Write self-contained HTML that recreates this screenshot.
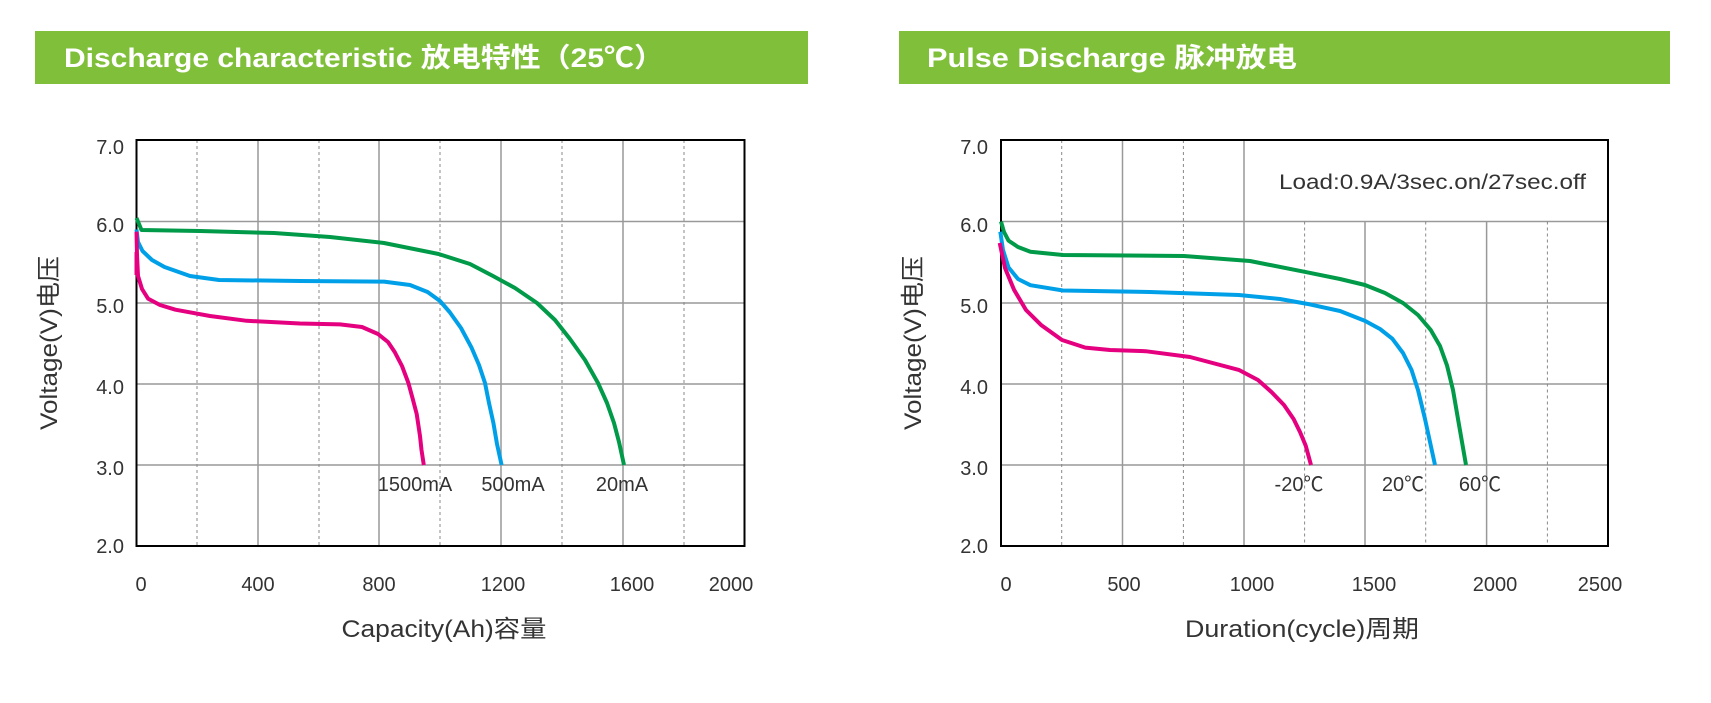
<!DOCTYPE html>
<html><head><meta charset="utf-8"><style>html,body{margin:0;padding:0;background:#fff}svg{display:block}</style></head><body>
<svg width="1711" height="703" viewBox="0 0 1711 703" xmlns="http://www.w3.org/2000/svg" font-family="'Liberation Sans','Noto Sans CJK SC',sans-serif">
<rect width="1711" height="703" fill="#fff"/>
<!-- headers -->
<rect x="35" y="31" width="773" height="53" fill="#80bf3a"/>
<text x="64" y="67" fill="#fff" font-size="27" font-weight="bold" textLength="600" lengthAdjust="spacingAndGlyphs">Discharge characteristic  放电特性（25℃）</text>
<rect x="899" y="31" width="771" height="53" fill="#80bf3a"/>
<text x="927" y="67" fill="#fff" font-size="27" font-weight="bold" textLength="370" lengthAdjust="spacingAndGlyphs">Pulse Discharge  脉冲放电</text>

<!-- LEFT CHART -->
<g stroke="#999" stroke-width="1.5" fill="none">
<line x1="136.5" y1="221.5" x2="744.5" y2="221.5"/><line x1="136.5" y1="303" x2="744.5" y2="303"/>
<line x1="136.5" y1="384" x2="744.5" y2="384"/><line x1="136.5" y1="465" x2="744.5" y2="465"/>
<line x1="258" y1="140" x2="258" y2="546"/><line x1="379" y1="140" x2="379" y2="546"/>
<line x1="501" y1="140" x2="501" y2="546"/><line x1="623" y1="140" x2="623" y2="546"/>
</g>
<g stroke="#888" stroke-width="1" stroke-dasharray="3,3">
<line x1="197" y1="140" x2="197" y2="546"/><line x1="319" y1="140" x2="319" y2="546"/>
<line x1="440" y1="140" x2="440" y2="546"/><line x1="562" y1="140" x2="562" y2="546"/><line x1="684" y1="140" x2="684" y2="546"/>
</g>
<rect x="136.5" y="140" width="608" height="406" fill="none" stroke="#000" stroke-width="2"/>
<g fill="none" stroke-width="4" stroke-linejoin="round" stroke-linecap="butt">
<polyline stroke="#009a49" points="136.5,218 141.5,230 200,231 274,233 330,237 384,243 438.6,254 470,264 493,276 515,288 537,303 555,320 570,339 585,360 598,383 607,403 614,423 619,442 624,465"/>
<polyline stroke="#00a0e9" points="136.5,229.5 138,242 142.5,251 152,260 164.5,267 190,276 219,280 300,281 384,281.6 410,285 427.6,292 440,301 449.6,312 461,328 471.5,347.6 479,365 485,383 489,403 493.4,423 497,444 501.6,465"/>
<polyline stroke="#e4007f" points="136.5,231.7 137,255 138,276 142,289 148,298.6 160,305 175.4,309.7 210,316 246.7,320.8 300,323.5 340,324.4 362,327 378,334 388,342 394.7,352 402,366 408.4,383 412.5,398 416.7,414 420,436 421.5,450 423.8,465"/>
<line stroke="#e4007f" x1="136.5" y1="252" x2="136.5" y2="275"/>
</g>
<g fill="#333" font-size="20">
<g text-anchor="end"><text x="124" y="154">7.0</text><text x="124" y="232">6.0</text><text x="124" y="313">5.0</text><text x="124" y="394">4.0</text><text x="124" y="475">3.0</text><text x="124" y="553">2.0</text></g>
<g text-anchor="middle"><text x="141" y="591">0</text><text x="258" y="591">400</text><text x="379" y="591">800</text><text x="503" y="591">1200</text><text x="632" y="591">1600</text><text x="731" y="591">2000</text>
<text x="415" y="491">1500mA</text><text x="513" y="491">500mA</text><text x="622" y="491">20mA</text>
<text x="444" y="637" font-size="24" textLength="205" lengthAdjust="spacingAndGlyphs">Capacity(Ah)容量</text>
<text transform="translate(57,343) rotate(-90)" font-size="24" textLength="174" lengthAdjust="spacingAndGlyphs">Voltage(V)电压</text></g>
</g>

<!-- RIGHT CHART -->
<g stroke="#999" stroke-width="1.5" fill="none">
<line x1="1001" y1="221.5" x2="1608" y2="221.5"/><line x1="1001" y1="303" x2="1608" y2="303"/>
<line x1="1001" y1="384" x2="1608" y2="384"/><line x1="1001" y1="465" x2="1608" y2="465"/>
<line x1="1122.5" y1="140" x2="1122.5" y2="546"/><line x1="1244" y1="140" x2="1244" y2="546"/>
<line x1="1365" y1="221.5" x2="1365" y2="546"/><line x1="1486.6" y1="221.5" x2="1486.6" y2="546"/>
</g>
<g stroke="#888" stroke-width="1" stroke-dasharray="3,3">
<line x1="1061.7" y1="140" x2="1061.7" y2="546"/><line x1="1183.4" y1="140" x2="1183.4" y2="546"/>
<line x1="1304.6" y1="221.5" x2="1304.6" y2="546"/><line x1="1425.7" y1="221.5" x2="1425.7" y2="546"/><line x1="1547.4" y1="221.5" x2="1547.4" y2="546"/>
</g>
<rect x="1001" y="140" width="607" height="406" fill="none" stroke="#000" stroke-width="2"/>
<g fill="none" stroke-width="4" stroke-linejoin="round">
<polyline stroke="#009a49" points="1001,221.5 1004,232 1008.5,240.6 1018,247 1030.4,251.8 1063,255 1184,256 1250,261 1304.6,271.8 1340,279 1365,285 1385,293 1403,303 1418,315 1430.6,329.8 1440,346 1447,365.4 1453,390 1458,419 1462,442 1466,465"/>
<polyline stroke="#00a0e9" points="1000.3,231.7 1003,250 1008.5,267.4 1018,279 1030.4,285.2 1063,290.5 1150,292 1238.8,295 1280,299 1310,304.4 1340,311 1365,320.9 1380,329 1392.3,338.7 1403,353 1411.5,369.9 1418,390 1425,419 1430,442 1435,465"/>
<polyline stroke="#e4007f" points="999.7,242.9 1005,268 1014,289.7 1026,310 1041.4,325.3 1062,340 1085.3,347.6 1110,350 1145.6,351.2 1190,357 1238.8,369.9 1258,380 1271.7,392.2 1284,405 1293.6,419 1300,432 1305.7,445.6 1311,465"/>
</g>
<g fill="#333" font-size="20">
<g text-anchor="end"><text x="988" y="154">7.0</text><text x="988" y="232">6.0</text><text x="988" y="313">5.0</text><text x="988" y="394">4.0</text><text x="988" y="475">3.0</text><text x="988" y="553">2.0</text></g>
<g text-anchor="middle"><text x="1006" y="591">0</text><text x="1124" y="591">500</text><text x="1252" y="591">1000</text><text x="1374" y="591">1500</text><text x="1495" y="591">2000</text><text x="1600" y="591">2500</text>
<text x="1299" y="491">-20℃</text><text x="1403" y="491">20℃</text><text x="1480" y="491">60℃</text>
<text x="1302" y="637" font-size="24" textLength="234" lengthAdjust="spacingAndGlyphs">Duration(cycle)周期</text>
<text transform="translate(921,343) rotate(-90)" font-size="24" textLength="174" lengthAdjust="spacingAndGlyphs">Voltage(V)电压</text></g>
<text x="1279" y="189" font-size="21" textLength="307" lengthAdjust="spacingAndGlyphs">Load:0.9A/3sec.on/27sec.off</text>
</g>
</svg>
</body></html>
